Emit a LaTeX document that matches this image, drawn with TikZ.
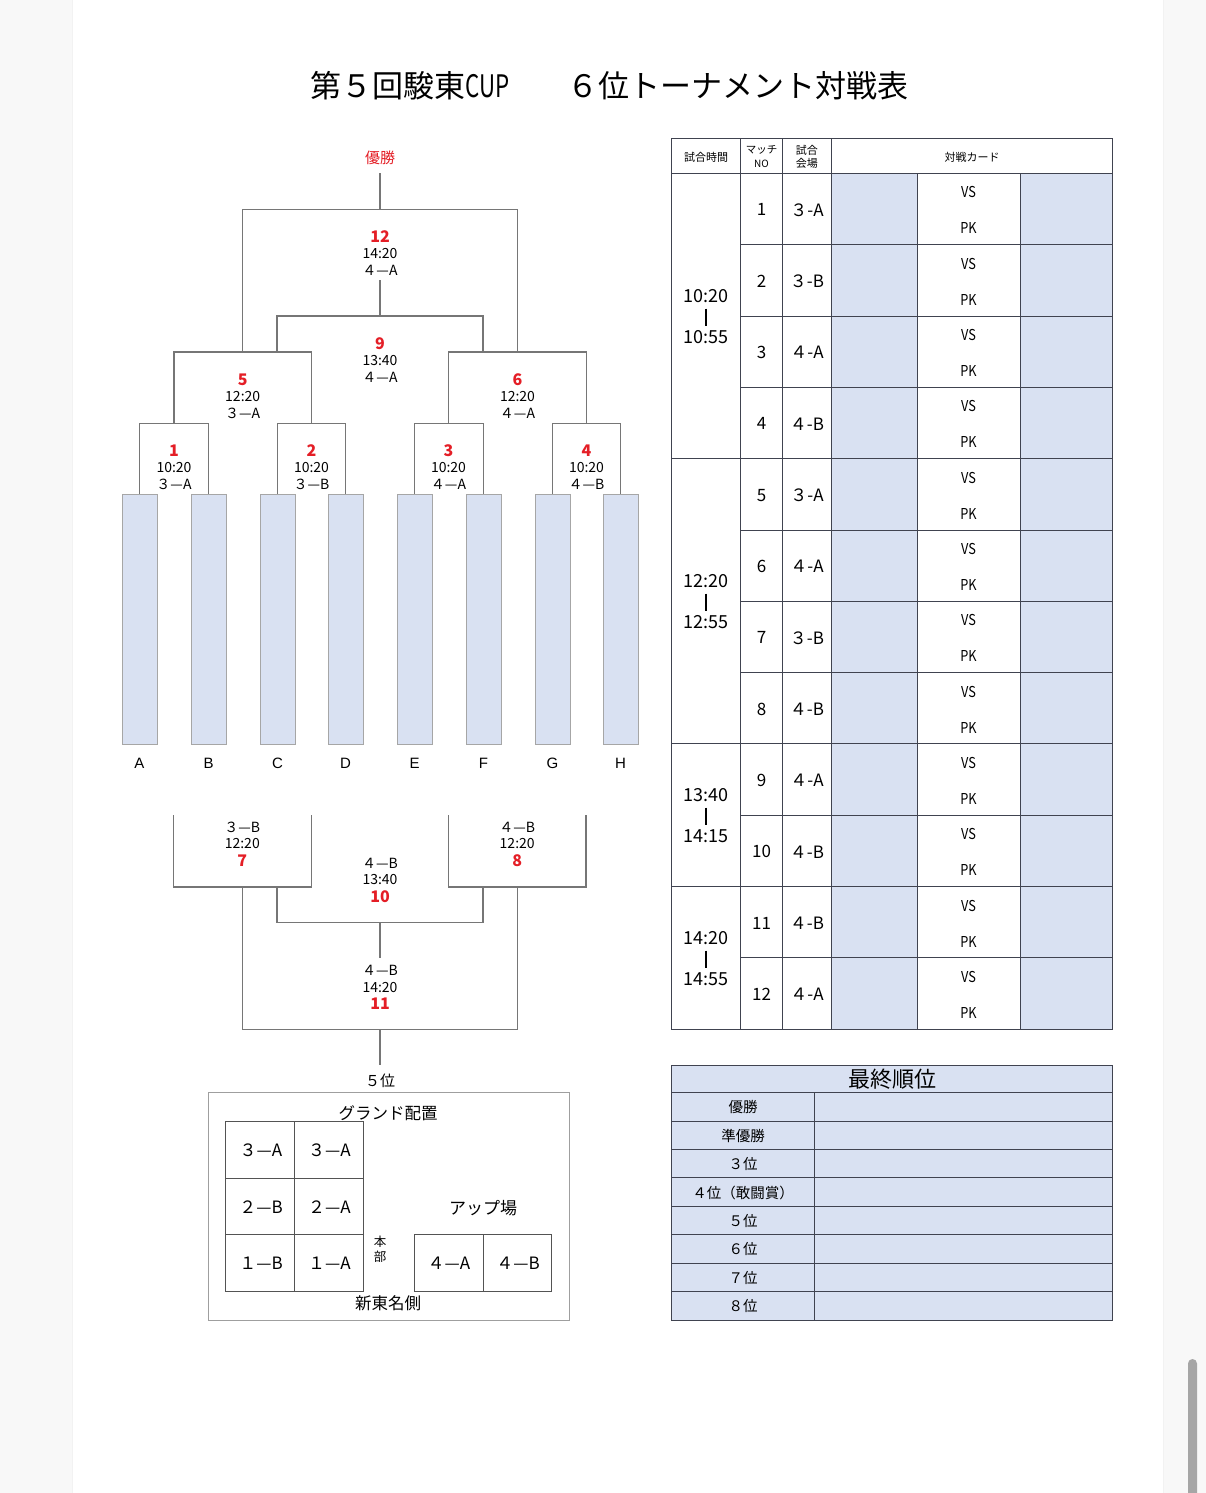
\documentclass[tikz,border=0pt]{standalone}
\usepackage{fontspec}
\newfontfamily\jp{Noto Sans CJK JP}
\newfontfamily\lsans{Liberation Sans}
\definecolor{cellblue}{RGB}{217,225,242}
\definecolor{redtxt}{RGB}{228,30,38}
\definecolor{brk}{RGB}{118,118,118}
\definecolor{tline}{RGB}{64,67,80}
\definecolor{pagebg}{RGB}{248,248,248}
\newcommand\fs[1]{\fontsize{#1}{#1}\selectfont}
\begin{document}
\begin{tikzpicture}[x=1pt,y=-1pt,
  brl/.style={draw=brk,line width=1.3pt},
  bt/.style={inner sep=0pt,font=\jp\fs{14}},
  bn/.style={inner sep=0pt,font=\jp\bfseries\fs{16},text=redtxt},
  team/.style={draw=gray!70,fill=cellblue,line width=0.9pt,minimum width=35pt,minimum height=250pt,inner sep=0pt},
  lett/.style={inner sep=0pt,font=\lsans\fs{15}},
  tl/.style={draw=tline,line width=0.9pt},
  th/.style={inner sep=0pt,font=\jp\fs{11}},
  tn/.style={inner sep=0pt,font=\jp\fs{17}},
  tt/.style={inner sep=0pt,font=\jp\fs{18}},
  vp/.style={inner sep=0pt,font=\jp\fs{15}},
  gl/.style={draw=gray!65!black,line width=0.9pt},
  gt/.style={inner sep=0pt,font=\jp\fs{17}},
  rk/.style={inner sep=0pt,font=\jp\fs{14.5}}]
\useasboundingbox (0,0) rectangle (1206,1493);
% page
\fill[pagebg] (0,0) rectangle (1206,1493);
\fill[white] (72,0) rectangle (1163,1493);
\draw[black!5,line width=1pt] (72,0) -- (72,1493);
\draw[black!5,line width=1pt] (1163,0) -- (1163,1493);
\fill[black!35,rounded corners=4.5pt] (1188,1359) rectangle (1197,1510);

% title
\node[inner sep=0pt,font=\jp\fs{31}] (title1) at (410.5,85.5) {第５回駿東\scalebox{0.72}[1]{CUP}};
\node[inner sep=0pt,font=\jp\fs{31}] (title2) at (737.5,85.5) {６位トーナメント対戦表};

% ---------- bracket: team boxes ----------
\foreach \n/\x in {A/139.5,B/208.5,C/277.5,D/345.5,E/414.5,F/483.5,G/552.5,H/620.5}{
  \node[team] (b\n) at (\x,619) {};
  \node[lett] (l\n) at (\x,763.5) {\n};
}
% upper bracket coordinates
\coordinate (m1) at (174,423.3);
\coordinate (m2) at (311.5,423.3);
\coordinate (m3) at (448.5,423.3);
\coordinate (m4) at (586.5,423.3);
\coordinate (m5) at (242.7,352);
\coordinate (m6) at (517.5,352);
\coordinate (j5) at (277,352);
\coordinate (j6) at (483,352);
\coordinate (m9) at (380,316);
\coordinate (m9t) at (380,280);
\coordinate (m12) at (380,209.3);
\coordinate (top) at (380,173);
\draw[brl] (bA.north) |- (m1) -| (bB.north);
\draw[brl] (bC.north) |- (m2) -| (bD.north);
\draw[brl] (bE.north) |- (m3) -| (bF.north);
\draw[brl] (bG.north) |- (m4) -| (bH.north);
\draw[brl] (m1) |- (m5) -| (m2);
\draw[brl] (m3) |- (m6) -| (m4);
\draw[brl] (j5) |- (m9) -| (j6);
\draw[brl] (m9) -- (m9t);
\draw[brl] (m5) |- (m12) -| (m6);
\draw[brl] (m12) -- (top);
\node[inner sep=0pt,font=\jp\fs{15},text=redtxt] (champ) at (380,157.5) {優勝};

% upper match labels
\foreach \nm/\x/\y/\tm/\vn in {12/380/236.5/14:20/４—A, 9/380/343.5/13:40/４—A,
  5/242.7/379.5/12:20/３—A, 6/517.5/379.5/12:20/４—A,
  1/174/450.5/10:20/３—A, 2/311.5/450.5/10:20/３—B, 3/448.5/450.5/10:20/４—A, 4/586.5/450.5/10:20/４—B}{
  \node[bn] (n\nm) at (\x,\y) {\nm};
  \node[bt] (t\nm) at (\x,\y+17.5) {\tm};
  \node[bt] (v\nm) at (\x,\y+34) {\vn};
}

% lower bracket
\coordinate (s7l) at (173.3,815);
\coordinate (s7r) at (311.3,815);
\coordinate (s8l) at (448.3,815);
\coordinate (s8r) at (586,815);
\coordinate (m7) at (242.3,887);
\coordinate (m8) at (517.2,887);
\coordinate (j7) at (277,887);
\coordinate (j8) at (483,887);
\coordinate (m10) at (380,922.3);
\coordinate (m10b) at (380,958);
\coordinate (m11) at (380,1029.3);
\coordinate (bot) at (380,1065);
\draw[brl] (s7l) |- (m7) -| (s7r);
\draw[brl] (s8l) |- (m8) -| (s8r);
\draw[brl] (j7) |- (m10) -| (j8);
\draw[brl] (m10) -- (m10b);
\draw[brl] (m7) |- (m11) -| (m8);
\draw[brl] (m11) -- (bot);
\foreach \nm/\x/\y/\tm/\vn in {7/242.3/827.2/12:20/３—B, 8/517.2/827.2/12:20/４—B,
  10/380/863.2/13:40/４—B, 11/380/970.5/14:20/４—B}{
  \node[bt] (v\nm) at (\x,\y) {\vn};
  \node[bt] (t\nm) at (\x,\y+16.5) {\tm};
  \node[bn] (n\nm) at (\x,\y+33.5) {\nm};
}
\node[inner sep=0pt,font=\jp\fs{15}] (fifth) at (380,1080.5) {５位};

% ---------- ground layout ----------
\draw[draw=gray!75,line width=1pt] (208.3,1092.3) rectangle (569,1320.7);
\node[inner sep=0pt,font=\jp\fs{16.5}] (gtitle) at (388,1113) {グランド配置};
\draw[gl] (225.7,1121) rectangle (363,1291.3);
\draw[gl] (294.3,1121) -- (294.3,1291.3);
\draw[gl] (225.7,1178) -- (363,1178);
\draw[gl] (225.7,1234.7) -- (363,1234.7);
\node[gt] (g1) at (261,1150) {３—A};
\node[gt] (g2) at (329.5,1150) {３—A};
\node[gt] (g3) at (261,1206.8) {２—B};
\node[gt] (g4) at (329.5,1206.8) {２—A};
\node[gt] (g5) at (261,1263.5) {１—B};
\node[gt] (g6) at (329.5,1263.5) {１—A};
\node[inner sep=0pt,font=\jp\fs{12.5}] (hq1) at (380,1242) {本};
\node[inner sep=0pt,font=\jp\fs{12.5}] (hq2) at (380,1257) {部};
\node[inner sep=0pt,font=\jp\fs{17}] (up) at (483,1208) {アップ場};
\draw[gl] (414.3,1234.3) rectangle (551.7,1291.3);
\draw[gl] (483.3,1234.3) -- (483.3,1291.3);
\node[gt] (u1) at (449,1263.5) {４—A};
\node[gt] (u2) at (518,1263.5) {４—B};
\node[inner sep=0pt,font=\jp\fs{16.5}] (side) at (388,1303) {新東名側};

% ---------- schedule table ----------
\foreach \i in {0,...,11}{
  \pgfmathsetmacro\rt{173.3+71.33*\i}
  \pgfmathsetmacro\rb{\rt+71.33}
  \fill[cellblue] (831.3,\rt) rectangle (917.3,\rb);
  \fill[cellblue] (1020,\rt) rectangle (1112.7,\rb);
}
\foreach \i in {1,2,3,5,6,7,9,11}{
  \pgfmathsetmacro\ry{173.3+71.33*\i}
  \draw[tl] (740.7,\ry) -- (1112.7,\ry);
}
\foreach \i in {4,8,10}{
  \pgfmathsetmacro\ry{173.3+71.33*\i}
  \draw[tl] (671.7,\ry) -- (1112.7,\ry);
}
\draw[tl] (671.7,173.3) -- (1112.7,173.3);
\foreach \x in {740.7,782.3,831.3}{\draw[tl] (\x,138.3) -- (\x,1029.3);}
\foreach \x in {917.3,1020}{\draw[tl] (\x,173.3) -- (\x,1029.3);}
\draw[tl] (671.7,138.3) rectangle (1112.7,1029.3);
% header
\node[th] (h1) at (706,157.5) {試合時間};
\node[inner sep=0pt,font=\jp\fs{10.5}] (h2a) at (761.5,150) {マッチ};
\node[inner sep=0pt,font=\jp\fs{10}] (h2b) at (761.5,163.5) {NO};
\node[th] (h3a) at (806.8,150) {試合};
\node[th] (h3b) at (806.8,163.5) {会場};
\node[th] (h4) at (972,157.5) {対戦カード};
% rows
\foreach \v [count=\i] in {３-A,３-B,４-A,４-B,３-A,４-A,３-B,４-B,４-A,４-B,４-B,４-A}{
  \pgfmathsetmacro\rt{173.3+71.33*(\i-1)}
  \node[tn] (mn\i) at (761.5,\rt+36.5) {\i};
  \node[tn] (mv\i) at (807,\rt+36.5) {\v};
  \node[vp] (vs\i) at (968.5,\rt+19) {\scalebox{0.85}[1]{VS}};
  \node[vp] (pk\i) at (968.5,\rt+55) {\scalebox{0.85}[1]{PK}};
}
% time groups
\foreach \c/\ta/\tb [count=\k] in {316/10:20/10:55, 601/12:20/12:55, 815/13:40/14:15, 958/14:20/14:55}{
  \node[tt] (ta\k) at (706,\c-19.5) {\ta};
  \node[tt] (tb\k) at (706,\c+21.5) {\tb};
  \draw[draw=black,line width=1.2pt] (706,\c-7.5) -- (706,\c+9.5);
}

% ---------- final ranking ----------
\fill[cellblue] (671.7,1065) rectangle (1112.7,1320);
\foreach \i in {0,...,7}{
  \pgfmathsetmacro\ry{1092.7+28.41*\i}
  \draw[tl] (671.7,\ry) -- (1112.7,\ry);
}
\draw[tl] (814.7,1092.7) -- (814.7,1320);
\draw[tl] (671.7,1065) rectangle (1112.7,1320);
\node[inner sep=0pt,font=\jp\fs{22}] (rkh) at (892,1079.5) {最終順位};
\foreach \t [count=\i] in {優勝,準優勝,３位,４位（敢闘賞）,５位,６位,７位,８位}{
  \pgfmathsetmacro\ry{1092.7+14.7+28.41*(\i-1)}
  \node[rk] (rk\i) at (743.2,\ry) {\t};
}
\end{tikzpicture}
\end{document}
